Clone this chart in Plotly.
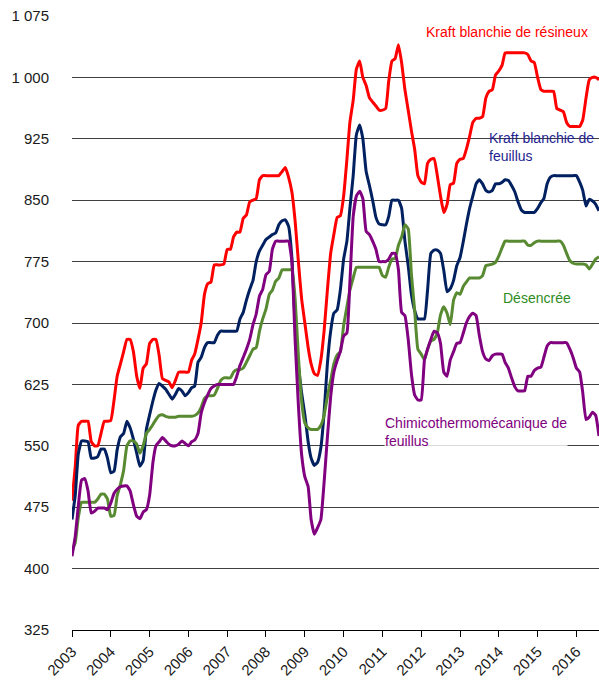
import pandas as pd
import plotly.graph_objects as go

# monthly prices, Jan 2003 -> Aug 2016
months = pd.date_range('2003-01-01', '2016-08-01', freq='MS')

kraft_resineux = [
    483, 525, 575, 580, 580, 580, 555, 550, 550, 565, 580, 580,
    581, 606, 635, 650, 665, 680, 680, 665, 635, 620, 645, 650,
    675, 680, 680, 660, 632, 630, 628, 621, 630, 640, 640, 640,
    640, 655, 662, 680, 700, 735, 748, 750, 771, 771, 771, 772,
    790, 790, 805, 811, 811, 828, 832, 848, 850, 852, 875, 880,
    880, 880, 880, 880, 880, 885, 890, 878, 860, 825, 775, 730,
    700, 670, 650, 638, 636, 655, 690, 740, 785, 808, 829, 831,
    855, 900, 945, 972, 1010, 1020, 1000, 990, 975, 970, 965, 960,
    960, 962, 995, 1020, 1023, 1040, 1018, 985, 960, 935, 912, 880,
    872, 870, 895, 900, 901, 880, 855, 835, 845, 869, 871, 895,
    900, 901, 912, 928, 945, 950, 950, 952, 975, 983, 985, 1003,
    1008, 1015, 1030, 1030, 1030, 1030, 1030, 1030, 1030, 1028, 1020, 1018,
    1000, 985, 983, 983, 983, 983, 962, 960, 958, 945, 940, 940,
    940, 940, 948, 975, 997, 1000, 1000, 997,
]

kraft_feuillus = [
    460, 490, 540, 556, 556, 555, 535, 535, 537, 546, 546, 535,
    517, 519, 545, 561, 565, 580, 572, 558, 541, 525, 532, 570,
    588, 605, 618, 626, 623, 619, 613, 607, 613, 620, 617, 611,
    615, 621, 623, 652, 658, 670, 676, 676, 676, 685, 690, 690,
    690, 690, 690, 690, 705, 713, 728, 741, 752, 775, 788, 795,
    802, 805, 808, 810, 820, 825, 826, 818, 780, 700, 648, 615,
    588, 555, 535, 526, 530, 548, 590, 650, 690, 712, 716, 740,
    778, 800, 840, 880, 930, 942, 925, 885, 868, 850, 829, 821,
    820, 820, 830, 850, 850, 850, 840, 800, 770, 735, 715, 705,
    705, 705, 740, 785, 789, 789, 785, 764, 738, 742, 752, 770,
    780, 800, 820, 840, 855, 870, 875, 870, 862, 860, 862, 870,
    870, 872, 875, 874, 868, 860, 848, 838, 835, 835, 835, 835,
    840, 847, 852, 870, 878, 880, 880, 880, 880, 880, 880, 880,
    880, 872, 862, 843, 851, 849, 845, 837,
]

desencree = [
    421, 432, 462, 481, 481, 481, 481, 481, 485, 491, 491, 485,
    464, 465, 489, 503, 520, 550, 556, 556, 552, 541, 550, 565,
    570, 576, 582, 587, 588, 586, 585, 585, 585, 586, 586, 586,
    586, 586, 587, 590, 597, 608, 611, 611, 612, 620, 630, 633,
    633, 633, 640, 643, 643, 645, 652, 660, 668, 670, 690, 705,
    717, 735, 740, 751, 755, 765, 765, 765, 765, 730, 660, 605,
    578, 572, 570, 570, 570, 575, 587, 610, 630, 650, 661, 665,
    697, 720, 740, 755, 768, 768, 768, 768, 768, 768, 768, 768,
    758, 756, 768, 778, 779, 795, 805, 820, 815, 760, 715, 668,
    662, 655, 668, 678, 680, 688, 710, 720, 712, 698, 728, 737,
    735, 745, 750, 755, 755, 755, 755, 758, 770, 771, 772, 774,
    782, 792, 800, 800, 800, 800, 800, 800, 800, 795, 795, 798,
    800, 800, 800, 800, 800, 800, 800, 800, 795, 785, 776, 773,
    772, 772, 772, 771, 766, 772, 778, 781,
]

ctmp_feuillus = [
    415, 440, 476, 508, 510, 495, 468, 470, 474, 474, 474, 472,
    480, 492, 497, 500, 501, 501, 495, 478, 464, 461, 469, 472,
    490, 530, 550, 555, 560, 556, 552, 550, 550, 552, 556, 553,
    550, 555, 557, 565, 590, 603, 612, 620, 623, 625, 625, 625,
    625, 625, 625, 635, 648, 658, 668, 680, 698, 711, 733, 741,
    759, 763, 790, 800, 800, 800, 800, 800, 775, 680, 600, 540,
    512, 500, 460, 442, 450, 460, 505, 560, 610, 640, 654, 665,
    684, 688, 750, 830, 855, 861, 852, 812, 808, 800, 790, 775,
    775, 775, 778, 785, 785, 765, 713, 709, 680, 638, 612, 606,
    606, 655, 668, 680, 690, 688, 675, 640, 635, 655, 665, 675,
    676, 688, 700, 708, 712, 709, 685, 665, 656, 654, 660, 662,
    662, 662, 652, 645, 633, 622, 617, 617, 617, 635, 635, 642,
    645, 646, 658, 672, 676, 676, 676, 676, 676, 676, 668, 658,
    645, 640, 615, 582, 585, 591, 587, 562,
]

y_ticks = [325, 400, 475, 550, 625, 700, 775, 850, 925, 1000, 1075]
y_labels = [f'{v:,}'.replace(',', ' ') for v in y_ticks]

series = [
    ('Kraft blanchie de résineux', kraft_resineux, '#FF0000'),
    ('Kraft blanchie de feuillus', kraft_feuillus, '#002060'),
    ('Désencrée', desencree, '#588A32'),
    ('Chimicothermomécanique de feuillus', ctmp_feuillus, '#800080'),
]

fig = go.Figure()
for name, values, color in series:
    fig.add_trace(go.Scatter(x=months, y=values, mode='lines', name=name,
                             line=dict(color=color, width=3, shape='spline', smoothing=0.4)))

# series labels written straight onto the plot
labels = [
    ('Kraft blanchie de résineux', '2012-02-05', 1056, '#FF0000', 'rgba(255,255,255,0.8)'),
    ('Kraft blanchie de<br>feuillus', '2013-09-20', 915, '#1F1F8F', 'rgba(0,0,0,0)'),
    ('Désencrée', '2014-02-01', 730, '#2E8B22', 'rgba(0,0,0,0)'),
    ('Chimicothermomécanique de<br>feuillus', '2011-01-12', 567, '#800080', 'rgba(255,255,255,0.8)'),
]
for text, x, y, color, bg in labels:
    fig.add_annotation(x=x, y=y, text=text, showarrow=False, xanchor='left', yanchor='middle',
                       align='left', font=dict(size=14, color=color), bgcolor=bg, borderpad=0)

fig.update_layout(
    width=599, height=683,
    margin=dict(l=72, r=0, t=16, b=53),
    plot_bgcolor='white', paper_bgcolor='white',
    showlegend=False,
    font=dict(family='Liberation Sans, Arial, sans-serif', size=15, color='#1a1a1a'),
    xaxis=dict(
        range=['2003-01-01', '2016-08-01'],
        tick0='2003-01-01', dtick='M12', tickformat='%Y',
        tickangle=-45, ticks='outside', ticklen=6, tickcolor='black',
        showgrid=False, showline=True, linecolor='black', linewidth=1,
        tickfont=dict(size=15), automargin=False,
    ),
    yaxis=dict(
        range=[325, 1075],
        tickmode='array', tickvals=y_ticks, ticktext=y_labels,
        showgrid=True, gridcolor='#404040', gridwidth=1,
        zeroline=False, showline=False, ticks='',
        ticklabelstandoff=22, tickfont=dict(size=15), automargin=False,
    ),
)

# the page body has a default 8px margin; drop it so the figure sits at the corner
fig.write_html('out.html', config={'displayModeBar': False},
               post_script="document.body.style.margin='0';")
